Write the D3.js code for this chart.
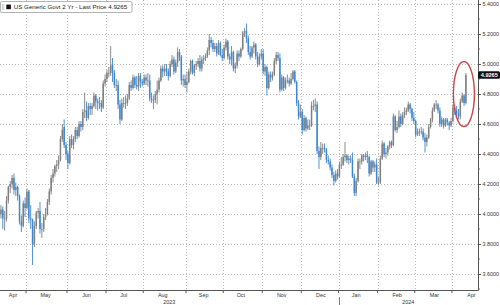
<!DOCTYPE html>
<html><head><meta charset="utf-8">
<script src="https://cdn.jsdelivr.net/npm/d3@7"></script>
<style>html,body{margin:0;padding:0;background:#fff;} svg{display:block;}</style>
</head><body>
<svg id="chart" width="500" height="305"></svg>
<script>
// ---- Data: US Generic Govt 2 Yr, daily OHLC (Apr 11 2023 .. Apr 10 2024) ----
const open = [
/*Apr23*/ 4.00,4.03,3.97,3.97,4.09,4.18,4.20,4.24,4.16,4.18,4.12,3.95,3.92,4.07,
/*May*/ 4.04,4.15,3.97,3.96,3.80,3.92,4.01,4.02,3.90,3.90,3.98,4.00,4.08,4.15,4.24,4.27,4.32,4.33,4.36,4.50,4.58,4.46,
/*Jun*/ 4.40,4.34,4.50,4.46,4.50,4.56,4.52,4.60,4.58,4.68,4.69,4.64,4.72,4.70,4.72,4.79,4.75,4.74,4.74,4.71,4.87,
/*Jul*/ 4.90,4.94,4.94,4.99,4.94,4.86,4.86,4.73,4.63,4.74,4.74,4.74,4.77,4.86,4.84,4.91,4.86,4.85,4.92,4.88,
/*Aug*/ 4.87,4.91,4.89,4.89,4.77,4.76,4.76,4.80,4.83,4.89,4.97,4.95,4.97,4.95,4.92,5.00,5.03,4.95,5.01,5.08,5.05,4.89,4.90,
/*Sep*/ 4.86,4.88,4.95,5.02,4.94,4.99,5.00,5.02,4.97,5.03,5.04,5.05,5.09,5.16,5.14,5.10,5.12,5.07,5.14,5.06,
/*Oct*/ 5.04,5.11,5.15,5.05,5.03,5.08,4.97,4.99,5.07,5.05,5.10,5.21,5.22,5.17,5.08,5.05,5.11,5.13,5.05,5.00,5.05,
/*Nov*/ 5.07,4.95,4.98,4.84,4.93,4.91,4.93,5.02,5.06,5.04,4.83,4.91,4.84,4.89,4.89,4.87,4.90,4.95,4.88,4.74,4.65,
/*Dec*/ 4.68,4.56,4.64,4.57,4.59,4.59,4.72,4.72,4.73,4.42,4.38,4.44,4.44,4.43,4.36,4.35,4.31,4.26,4.22,4.27,
/*Jan*/ 4.25,4.33,4.33,4.38,4.39,4.36,4.37,4.36,4.25,4.14,4.22,4.35,4.35,4.39,4.38,4.39,4.38,4.27,4.35,4.31,4.33,
/*Feb*/ 4.21,4.21,4.37,4.47,4.40,4.41,4.45,4.48,4.46,4.65,4.56,4.58,4.65,4.60,4.66,4.68,4.69,4.73,4.70,4.64,
/*Mar*/ 4.62,4.53,4.55,4.55,4.55,4.51,4.48,4.51,4.58,4.63,4.69,4.73,4.73,4.69,4.60,4.63,4.59,4.63,4.61,4.59,
/*Apr24*/ 4.62,4.71,4.69,4.67,4.65,4.75,4.79,4.74
];
const high = [
/*Apr23*/ 4.06,4.05,4.02,4.12,4.19,4.22,4.26,4.27,4.21,4.19,4.13,3.99,4.09,4.11,
/*May*/ 4.17,4.16,4.06,3.97,3.95,4.02,4.04,4.08,3.94,4.00,4.04,4.10,4.17,4.26,4.30,4.33,4.36,4.39,4.52,4.60,4.63,4.48,
/*Jun*/ 4.42,4.52,4.53,4.52,4.58,4.58,4.62,4.62,4.70,4.81,4.75,4.74,4.74,4.74,4.81,4.80,4.77,4.78,4.76,4.89,4.93,
/*Jul*/ 4.96,4.98,5.12,5.04,4.96,4.90,4.89,4.76,4.77,4.78,4.79,4.80,4.88,4.89,4.93,4.92,4.92,4.94,4.94,4.90,
/*Aug*/ 4.93,4.93,4.94,4.93,4.81,4.79,4.82,4.89,4.91,4.99,4.99,5.00,5.00,4.97,5.02,5.06,5.05,5.03,5.11,5.10,5.06,4.93,4.93,
/*Sep*/ 4.95,4.97,5.03,5.03,5.00,5.02,5.04,5.06,5.05,5.06,5.07,5.11,5.20,5.18,5.16,5.14,5.14,5.16,5.15,5.10,
/*Oct*/ 5.13,5.17,5.16,5.07,5.12,5.09,5.01,5.09,5.09,5.11,5.22,5.24,5.27,5.19,5.12,5.12,5.15,5.14,5.08,5.07,5.10,
/*Nov*/ 5.10,5.00,4.99,4.95,4.95,4.95,5.04,5.08,5.08,5.07,4.93,4.92,4.91,4.93,4.91,4.94,4.96,4.96,4.89,4.76,4.73,
/*Dec*/ 4.70,4.66,4.65,4.63,4.63,4.75,4.76,4.77,4.75,4.45,4.48,4.47,4.47,4.44,4.39,4.37,4.33,4.28,4.29,4.30,
/*Jan*/ 4.35,4.38,4.40,4.48,4.40,4.39,4.39,4.41,4.27,4.24,4.37,4.37,4.40,4.40,4.41,4.42,4.39,4.36,4.36,4.35,4.37,
/*Feb*/ 4.25,4.39,4.49,4.48,4.44,4.46,4.49,4.49,4.67,4.66,4.62,4.69,4.67,4.68,4.71,4.71,4.75,4.74,4.71,4.68,
/*Mar*/ 4.63,4.57,4.57,4.58,4.57,4.54,4.53,4.60,4.64,4.71,4.74,4.76,4.74,4.71,4.65,4.64,4.64,4.64,4.62,4.64,
/*Apr24*/ 4.73,4.73,4.72,4.70,4.77,4.81,4.80,4.94
];
const low = [
/*Apr23*/ 3.97,3.90,3.89,3.95,4.07,4.14,4.17,4.13,4.12,4.09,3.93,3.88,3.91,3.98,
/*May*/ 4.03,3.94,3.90,3.66,3.78,3.90,3.97,3.87,3.84,3.88,3.96,3.99,4.06,4.13,4.21,4.25,4.28,4.30,4.35,4.48,4.44,4.36,
/*Jun*/ 4.30,4.33,4.44,4.43,4.48,4.50,4.51,4.55,4.56,4.64,4.62,4.63,4.66,4.66,4.71,4.70,4.69,4.70,4.68,4.70,4.85,
/*Jul*/ 4.88,4.91,4.92,4.88,4.84,4.82,4.70,4.60,4.62,4.71,4.70,4.72,4.76,4.82,4.83,4.84,4.83,4.82,4.84,4.85,
/*Aug*/ 4.86,4.86,4.85,4.75,4.74,4.70,4.74,4.73,4.81,4.88,4.91,4.92,4.92,4.89,4.91,4.98,4.93,4.94,4.98,5.02,4.86,4.85,4.84,
/*Sep*/ 4.81,4.87,4.93,4.93,4.92,4.96,4.98,4.95,4.95,5.00,5.02,5.04,5.06,5.11,5.08,5.08,5.05,5.06,5.05,5.02,
/*Oct*/ 5.03,5.09,5.03,5.00,4.99,4.95,4.94,4.97,5.02,5.04,5.09,5.18,5.14,5.06,5.03,5.04,5.07,5.03,4.98,4.99,5.03,
/*Nov*/ 4.93,4.92,4.79,4.83,4.88,4.89,4.92,5.00,5.02,4.81,4.82,4.82,4.83,4.87,4.85,4.86,4.89,4.87,4.72,4.63,4.64,
/*Dec*/ 4.53,4.55,4.55,4.56,4.56,4.58,4.69,4.68,4.40,4.30,4.36,4.40,4.41,4.34,4.33,4.29,4.24,4.19,4.21,4.23,
/*Jan*/ 4.24,4.30,4.32,4.35,4.34,4.33,4.34,4.24,4.12,4.12,4.21,4.30,4.33,4.35,4.36,4.34,4.25,4.26,4.28,4.28,4.20,
/*Feb*/ 4.19,4.20,4.36,4.38,4.37,4.39,4.43,4.44,4.45,4.55,4.54,4.57,4.58,4.59,4.64,4.66,4.68,4.67,4.62,4.60,
/*Mar*/ 4.51,4.52,4.52,4.53,4.49,4.41,4.45,4.50,4.57,4.61,4.68,4.70,4.67,4.58,4.58,4.57,4.58,4.59,4.56,4.58,
/*Apr24*/ 4.61,4.66,4.64,4.63,4.63,4.74,4.72,4.73
];
const close = [
/*Apr23*/ 4.03,3.97,3.97,4.09,4.18,4.20,4.24,4.16,4.18,4.12,3.95,3.92,4.07,4.04,
/*May*/ 4.15,3.97,3.96,3.80,3.92,4.01,4.02,3.90,3.90,3.98,4.00,4.08,4.15,4.24,4.27,4.32,4.33,4.36,4.50,4.56,4.46,4.40,
/*Jun*/ 4.34,4.50,4.46,4.50,4.56,4.52,4.60,4.58,4.68,4.69,4.64,4.72,4.70,4.72,4.79,4.75,4.74,4.74,4.71,4.87,4.90,
/*Jul*/ 4.94,4.94,4.99,4.94,4.86,4.86,4.73,4.63,4.74,4.74,4.74,4.77,4.86,4.84,4.91,4.86,4.85,4.92,4.88,4.87,
/*Aug*/ 4.91,4.89,4.89,4.77,4.76,4.76,4.80,4.83,4.89,4.97,4.95,4.97,4.95,4.92,5.00,5.03,4.95,5.01,5.08,5.05,4.89,4.90,4.86,
/*Sep*/ 4.88,4.95,5.02,4.94,4.99,5.00,5.02,4.97,5.03,5.04,5.05,5.09,5.16,5.14,5.10,5.12,5.07,5.14,5.06,5.04,
/*Oct*/ 5.11,5.15,5.05,5.03,5.08,4.97,4.99,5.07,5.05,5.10,5.21,5.22,5.17,5.08,5.05,5.11,5.13,5.05,5.00,5.05,5.07,
/*Nov*/ 4.95,4.98,4.84,4.93,4.91,4.93,5.02,5.06,5.04,4.83,4.91,4.84,4.89,4.89,4.87,4.90,4.95,4.88,4.74,4.65,4.68,
/*Dec*/ 4.56,4.64,4.57,4.59,4.59,4.72,4.72,4.73,4.42,4.38,4.44,4.44,4.43,4.36,4.35,4.31,4.26,4.22,4.27,4.25,
/*Jan*/ 4.33,4.33,4.38,4.39,4.36,4.37,4.36,4.25,4.14,4.22,4.35,4.35,4.39,4.38,4.39,4.38,4.27,4.35,4.31,4.33,4.21,
/*Feb*/ 4.21,4.37,4.47,4.40,4.41,4.45,4.48,4.46,4.65,4.56,4.58,4.65,4.60,4.66,4.68,4.69,4.73,4.70,4.64,4.62,
/*Mar*/ 4.53,4.55,4.55,4.55,4.51,4.48,4.51,4.58,4.63,4.69,4.73,4.73,4.69,4.60,4.63,4.59,4.63,4.61,4.59,4.62,
/*Apr24*/ 4.71,4.69,4.67,4.65,4.75,4.79,4.74,4.9265
];
const holidays = ["2023-05-29","2023-06-19","2023-07-04","2023-09-04","2023-10-09","2023-11-23",
                  "2023-12-25","2024-01-01","2024-01-15","2024-02-19","2024-03-29"];
const yTicks = [3.6,3.8,4.0,4.2,4.4,4.6,4.8,5.0,5.2,5.4];
const monthNames = ["Jan","Feb","Mar","Apr","May","Jun","Jul","Aug","Sep","Oct","Nov","Dec"];
const legendText = "US Generic Govt 2 Yr - Last Price 4.9265";
const lastPrice = 4.9265;

// ---- Layout ----
const W = 500, H = 305;
const plotR = 478, plotB = 290;
const svg = d3.select("#chart");
const fmtDay = d3.utcFormat("%Y-%m-%d");

const tradingDays = d3.utcDay.range(new Date(Date.UTC(2023,3,11)), new Date(Date.UTC(2024,3,19)))
  .filter(d => d.getUTCDay() !== 0 && d.getUTCDay() !== 6 && !holidays.includes(fmtDay(d)));

const x = d3.scaleBand().domain(tradingDays.map(d => +d)).range([0, plotR]).padding(0);
const step = x.step();
const y = d3.scaleLinear().domain([3.6, 5.4]).range([274, 4]);

const data = close.map((c, i) => ({date: tradingDays[i], o: open[i], h: high[i], l: low[i], c}));

// month starts
const monthStarts = [];
tradingDays.forEach((d, i) => {
  if (i === 0 || d.getUTCMonth() !== tradingDays[i-1].getUTCMonth()) monthStarts.push(d);
});

const grid = svg.append("g");
grid.selectAll("line.h").data(yTicks).join("line")
  .attr("x1", 0).attr("x2", plotR)
  .attr("y1", d => Math.round(y(d)) + 0.5).attr("y2", d => Math.round(y(d)) + 0.5)
  .attr("stroke", "#b8b8b8").attr("stroke-width", 1).attr("stroke-dasharray", "1,2");
grid.selectAll("line.v").data(monthStarts.slice(1)).join("line")
  .attr("x1", d => Math.round(x(+d)) + 0.5).attr("x2", d => Math.round(x(+d)) + 0.5)
  .attr("y1", 0).attr("y2", plotB)
  .attr("stroke", "#b8b8b8").attr("stroke-width", 1).attr("stroke-dasharray", "1,2");

// candles
const up = "#7e7e7e", down = "#3b86d0";
const cg = svg.append("g");
cg.selectAll("line.wick").data(data).join("line")
  .attr("x1", d => x(+d.date) + step/2).attr("x2", d => x(+d.date) + step/2)
  .attr("y1", d => y(d.h)).attr("y2", d => y(d.l))
  .attr("stroke", d => d.c < d.o ? down : up).attr("stroke-width", 0.9);
cg.selectAll("rect.body").data(data).join("rect")
  .attr("x", d => x(+d.date) + 0.2).attr("width", step - 0.4)
  .attr("y", d => y(Math.max(d.o, d.c)))
  .attr("height", d => Math.max(0.8, Math.abs(y(d.o) - y(d.c))))
  .attr("fill", d => d.c < d.o ? down : up);

// axes lines
svg.append("line").attr("x1", plotR + 0.5).attr("x2", plotR + 0.5).attr("y1", 0).attr("y2", plotB + 0.5)
  .attr("stroke", "#555").attr("stroke-width", 1);
svg.append("line").attr("x1", 0).attr("x2", plotR + 0.5).attr("y1", plotB + 0.5).attr("y2", plotB + 0.5)
  .attr("stroke", "#555").attr("stroke-width", 1);

// y axis (right)
const yAxis = d3.axisRight(y).tickValues(yTicks).tickFormat(d3.format(".4f")).tickSize(2.5).tickPadding(1.5);
const ya = svg.append("g").attr("transform", `translate(${plotR + 0.5},0)`).call(yAxis);
ya.select(".domain").remove();
ya.selectAll("line").attr("stroke", "#555");
ya.selectAll("text").attr("font-family", "Liberation Sans, Arial, sans-serif").attr("font-size", 5.4).attr("fill", "#333");
const minor = d3.range(3.5, 5.45, 0.1).filter(v => !yTicks.some(t => Math.abs(t - v) < 1e-6) && y(v) > 0 && y(v) < plotB);
svg.append("g").selectAll("line").data(minor).join("line")
  .attr("x1", plotR + 0.5).attr("x2", plotR + 2)
  .attr("y1", d => y(d)).attr("y2", d => y(d)).attr("stroke", "#555").attr("stroke-width", 0.8);

// x axis ticks at month starts
const xa = d3.axisBottom(x).tickValues(monthStarts.slice(1).map(d => +d)).tickFormat("").tickSize(2.5);
const xg = svg.append("g").attr("transform", `translate(${-step/2},${plotB + 0.5})`).call(xa);
xg.select(".domain").remove();
xg.selectAll("line").attr("stroke", "#555");

// month labels
const domainStart = tradingDays[0], domainEnd = tradingDays[tradingDays.length - 1];
const monthLabels = [];
d3.utcMonth.range(d3.utcMonth.floor(domainStart), d3.utcMonth.offset(d3.utcMonth.floor(domainEnd), 1)).forEach(m => {
  const mid = new Date(Date.UTC(m.getUTCFullYear(), m.getUTCMonth(), 15));
  const td = tradingDays.find(d => d >= mid);
  let px;
  if (m < domainStart) {
    px = x(+monthStarts[1]) / 2;
  } else {
    px = x(+td) + step / 2;
  }
  monthLabels.push({label: monthNames[m.getUTCMonth()], px});
});
svg.append("g").selectAll("text").data(monthLabels).join("text")
  .attr("x", d => d.px).attr("y", 297.2).attr("text-anchor", "middle")
  .attr("font-family", "Liberation Sans, Arial, sans-serif").attr("font-size", 5.4).attr("fill", "#333")
  .text(d => d.label);

// year labels
const janStart = monthStarts.find(d => d.getUTCMonth() === 0);
const years = [{label: "2023", px: x(+janStart) / 2}, {label: "2024", px: (x(+janStart) + plotR) / 2}];
svg.append("g").selectAll("text").data(years).join("text")
  .attr("x", d => d.px).attr("y", 304).attr("text-anchor", "middle")
  .attr("font-family", "Liberation Sans, Arial, sans-serif").attr("font-size", 5.4).attr("fill", "#333")
  .text(d => d.label);
svg.append("line").attr("x1", Math.round(x(+janStart)) + 0.5).attr("x2", Math.round(x(+janStart)) + 0.5)
  .attr("y1", 297).attr("y2", 305).attr("stroke", "#555").attr("stroke-width", 0.8);

// legend
const lg = svg.append("g");
lg.append("rect").attr("x", 0.5).attr("y", 1.5).attr("width", 131.5).attr("height", 11).attr("rx", 1.5)
  .attr("fill", "#fff").attr("stroke", "#a0a0a0").attr("stroke-width", 0.8);
[5, 7, 9].forEach(v => lg.append("line").attr("x1", 1.8).attr("x2", 4.2).attr("y1", v).attr("y2", v)
  .attr("stroke", "#888").attr("stroke-width", 0.7));
lg.append("rect").attr("x", 6.3).attr("y", 4.6).attr("width", 4.6).attr("height", 4.6).attr("fill", "#111");
lg.append("text").attr("x", 13.8).attr("y", 9.4)
  .attr("font-family", "Liberation Sans, Arial, sans-serif").attr("font-size", 6.2).attr("fill", "#222")
  .text(legendText);

// last price badge
const yl = y(lastPrice);
svg.append("rect").attr("x", plotR).attr("y", yl - 3.7).attr("width", 22).attr("height", 7.4).attr("rx", 1.5)
  .attr("fill", "#111");
svg.append("text").attr("x", plotR + 11.3).attr("y", yl + 2).attr("text-anchor", "middle")
  .attr("font-family", "Liberation Sans, Arial, sans-serif").attr("font-size", 5.6).attr("font-weight", "bold")
  .attr("fill", "#fff").text(d3.format(".4f")(lastPrice));

// red highlight ellipse around the latest move
const lastX = x(+tradingDays[close.length - 1]) + step / 2;
svg.append("ellipse").attr("cx", lastX - 2).attr("cy", y(4.8)).attr("rx", 10.5).attr("ry", 32.5)
  .attr("fill", "none").attr("stroke", "#c9464a").attr("stroke-width", 1.4);
</script>
</body></html>
